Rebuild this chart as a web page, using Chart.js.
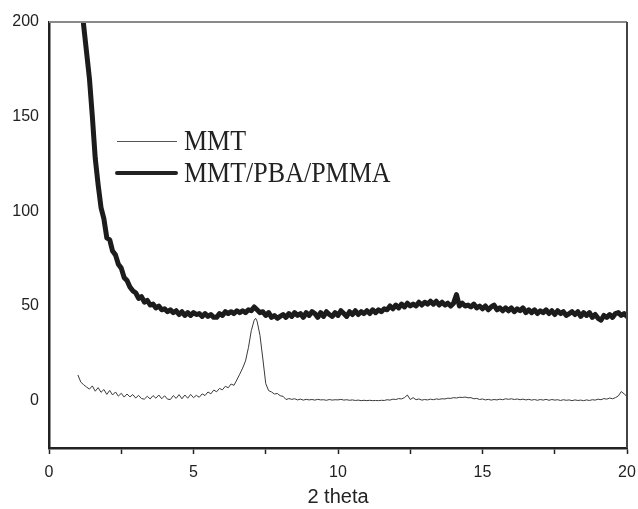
<!DOCTYPE html>
<html>
<head>
<meta charset="utf-8">
<script src="https://cdn.jsdelivr.net/npm/chart.js@4"></script>
<style>
  html, body { margin: 0; padding: 0; background: #fff; overflow: hidden; }
  #wrap { position: relative; width: 638px; height: 509px; }
  .key-line { position: absolute; background: #222; }
  .key-text {
    position: absolute;
    font-family: "Liberation Serif", "Times New Roman", serif;
    font-size: 26px;
    line-height: 26px;
    color: #222;
    white-space: nowrap;
    transform: scaleY(1.13);
    transform-origin: 0 22px;
  }
</style>
</head>
<body>
<div id="wrap">
  <canvas id="chart" width="638" height="509"></canvas>
  <div class="key-line" style="left:117px; top:141px; width:60px; height:1px; background:#555;"></div>
  <div class="key-text" style="left:184px; top:129px;">MMT</div>
  <div class="key-line" style="left:115px; top:171px; width:63px; height:4px; border-radius:2px;"></div>
  <div class="key-text" style="left:184px; top:161px;">MMT/PBA/PMMA</div>
</div>
<script>
const xTicks = [0, 2.5, 5, 7.5, 10, 12.5, 15, 17.5, 20];
const yTicks = [0, 50, 100, 150, 200];

const mmtAngle = [
  1.0, 1.1, 1.2, 1.3, 1.4, 1.5, 1.6, 1.7, 1.8, 1.9,
  2.0, 2.1, 2.2, 2.3, 2.4, 2.5, 2.6, 2.7, 2.8, 2.9,
  3.0, 3.1, 3.2, 3.3, 3.4, 3.5, 3.6, 3.7, 3.8, 3.9,
  4.0, 4.1, 4.2, 4.3, 4.4, 4.5, 4.6, 4.7, 4.8, 4.9,
  5.0, 5.1, 5.2, 5.3, 5.4, 5.5, 5.6, 5.7, 5.8, 5.9,
  6.0, 6.1, 6.2, 6.3, 6.4, 6.5, 6.6, 6.7, 6.8, 6.9,
  7.0, 7.1, 7.15, 7.2, 7.3, 7.4, 7.5, 7.6, 7.7, 7.8, 7.9,
  8.0, 8.1, 8.2, 8.3, 8.4, 8.5, 8.6, 8.7, 8.8, 8.9,
  9.0, 9.1, 9.2, 9.3, 9.4, 9.5, 9.6, 9.7, 9.8, 9.9,
  10.0, 10.1, 10.2, 10.3, 10.4, 10.5, 10.6, 10.7, 10.8, 10.9,
  11.0, 11.1, 11.2, 11.3, 11.4, 11.5, 11.6, 11.7, 11.8, 11.9,
  12.0, 12.1, 12.2, 12.3, 12.4, 12.5, 12.6, 12.7, 12.8, 12.9,
  13.0, 13.1, 13.2, 13.3, 13.4, 13.5, 13.6, 13.7, 13.8, 13.9,
  14.0, 14.1, 14.2, 14.3, 14.4, 14.5, 14.6, 14.7, 14.8, 14.9,
  15.0, 15.1, 15.2, 15.3, 15.4, 15.5, 15.6, 15.7, 15.8, 15.9,
  16.0, 16.1, 16.2, 16.3, 16.4, 16.5, 16.6, 16.7, 16.8, 16.9,
  17.0, 17.1, 17.2, 17.3, 17.4, 17.5, 17.6, 17.7, 17.8, 17.9,
  18.0, 18.1, 18.2, 18.3, 18.4, 18.5, 18.6, 18.7, 18.8, 18.9,
  19.0, 19.1, 19.2, 19.3, 19.4, 19.5, 19.6, 19.7, 19.8, 19.9, 20.0
];
const mmtCounts = [
  13.6, 9.8, 8.4, 7.2, 6.1, 7.8, 5.0, 6.9, 4.4, 5.9,
  3.3, 5.4, 3.0, 4.6, 2.4, 3.9, 1.9, 3.5, 2.0, 3.2,
  1.4, 2.8, 1.1, 0.8, 2.3, 0.9, 2.7, 1.3, 3.0, 1.0,
  2.6, 0.8, 0.6, 2.7, 1.2, 3.2, 1.0, 3.0, 1.3, 3.3,
  1.6, 2.8, 1.8, 3.6, 2.7, 4.6, 3.6, 5.6, 4.7, 6.5,
  5.7, 7.6, 6.8, 8.8, 8.1, 11.0, 14.0, 17.2, 21.0, 28.0,
  37.0, 42.5, 43.5, 42.0, 34.5, 22.0, 9.0, 5.3, 4.6, 3.5, 3.8,
  2.6, 2.3, 0.6, 1.1, 0.7, 1.0, 0.4, 0.8, 0.3, 0.7,
  0.4, 0.6, 0.3, 0.7, 0.4, 0.5, 0.2, 0.6, 0.3, 0.5,
  0.4, 0.7, 0.3, 0.5, 0.2, 0.4, 0.1, 0.3, 0.0, 0.2,
  0.0, 0.2, 0.0, 0.1, 0.0, 0.2, 0.1, 0.5, 0.3, 0.8,
  0.6, 1.1, 0.9, 1.6, 3.0, 0.6, 1.6, 0.5, 0.9, 0.3,
  0.6, 0.4, 0.8, 0.5, 0.9, 0.7, 1.0, 0.9, 1.3, 1.2,
  1.6, 1.4, 1.8, 1.7, 1.9, 1.5, 1.6, 1.0, 1.2, 0.6,
  0.9, 0.4, 0.7, 0.3, 0.6, 0.4, 0.8, 0.5, 1.0, 0.7,
  1.0, 0.6, 0.9, 0.5, 0.8, 0.4, 0.7, 0.3, 0.6, 0.2,
  0.6, 0.3, 0.7, 0.2, 0.6, 0.3, 0.5, 0.1, 0.5, 0.2,
  0.4, 0.0, 0.4, 0.1, 0.3, 0.0, 0.4, 0.1, 0.5, 0.3,
  0.8, 0.5, 1.1, 0.8, 1.4, 1.0, 1.6, 2.5, 4.8, 3.6, 2.2
];

const hybridAngle = [
  1.0, 1.1, 1.2, 1.3, 1.4, 1.5, 1.6, 1.7, 1.8, 1.9,
  2.0, 2.1, 2.2, 2.3, 2.4, 2.5, 2.6, 2.7, 2.8, 2.9,
  3.0, 3.1, 3.2, 3.3, 3.4, 3.5, 3.6, 3.7, 3.8, 3.9,
  4.0, 4.1, 4.2, 4.3, 4.4, 4.5, 4.6, 4.7, 4.8, 4.9,
  5.0, 5.1, 5.2, 5.3, 5.4, 5.5, 5.6, 5.7, 5.8, 5.9,
  6.0, 6.1, 6.2, 6.3, 6.4, 6.5, 6.6, 6.7, 6.8, 6.9,
  7.0, 7.1, 7.2, 7.3, 7.4, 7.5, 7.6, 7.7, 7.8, 7.9,
  8.0, 8.1, 8.2, 8.3, 8.4, 8.5, 8.6, 8.7, 8.8, 8.9,
  9.0, 9.1, 9.2, 9.3, 9.4, 9.5, 9.6, 9.7, 9.8, 9.9,
  10.0, 10.1, 10.2, 10.3, 10.4, 10.5, 10.6, 10.7, 10.8, 10.9,
  11.0, 11.1, 11.2, 11.3, 11.4, 11.5, 11.6, 11.7, 11.8, 11.9,
  12.0, 12.1, 12.2, 12.3, 12.4, 12.5, 12.6, 12.7, 12.8, 12.9,
  13.0, 13.1, 13.2, 13.3, 13.4, 13.5, 13.6, 13.7, 13.8, 13.9,
  14.0, 14.1, 14.2, 14.3, 14.4, 14.5, 14.6, 14.7, 14.8, 14.9,
  15.0, 15.1, 15.2, 15.3, 15.4, 15.5, 15.6, 15.7, 15.8, 15.9,
  16.0, 16.1, 16.2, 16.3, 16.4, 16.5, 16.6, 16.7, 16.8, 16.9,
  17.0, 17.1, 17.2, 17.3, 17.4, 17.5, 17.6, 17.7, 17.8, 17.9,
  18.0, 18.1, 18.2, 18.3, 18.4, 18.5, 18.6, 18.7, 18.8, 18.9,
  19.0, 19.1, 19.2, 19.3, 19.4, 19.5, 19.6, 19.7, 19.8, 19.9, 20.0
];
const hybridCounts = [
  250, 215, 198, 184, 170, 150, 128, 114, 102, 96,
  86, 85, 79, 77, 72, 70, 65, 63.5, 60, 58,
  57, 54, 55, 52, 53, 50.5, 51, 49, 50, 48,
  48.5, 47, 48, 46.5, 47.5, 45.5, 47, 45, 46.5, 45,
  46.5, 45.5, 46, 44.5, 46, 44.5, 45.5, 44, 44, 46,
  45, 47, 46, 47, 46, 47.5, 46.5, 47.5, 46.5, 48,
  47.5, 49.5, 48, 46.5, 47, 45, 46.5, 44, 45, 43.5,
  44.5, 45.5, 44, 46, 44.5, 46.5, 45, 46, 44, 46.5,
  45, 47, 46, 44, 46.5, 44.5, 47, 45.5, 44.5, 46.5,
  45, 47.5, 46, 44.5, 47, 45.5, 47.5, 45.5, 47, 46,
  47.5, 46, 48, 46.5, 48, 47, 48.5, 48, 50, 48.5,
  50.5, 49, 51, 49.5, 51.5, 50, 51, 50, 52, 50.5,
  52, 51, 52.5, 51, 52.5, 50.5, 52, 50.5, 51.5, 50,
  51.5, 56, 50, 51.5, 50, 50.5, 49.5, 51, 49, 50,
  48.5, 50, 48, 49.5, 50.5, 48, 49, 47.5, 49, 47.5,
  49, 47, 48.5, 47.5, 49, 46.5, 48, 46.5, 48, 46,
  47.5, 46.5, 48, 46, 47.5, 45.5, 47.5, 46, 47, 45,
  46, 47, 45.5, 47, 44.5, 46.5, 45, 46.5, 44, 45.5,
  43.5, 42.5, 45, 44, 45.5, 44, 46, 46.5, 45, 46, 44.5
];

const toPoints = (xs, ys) => xs.map((x, i) => ({ x, y: ys[i] }));

// plot frame: grey top edge, dark right edge
const framePlugin = {
  id: 'frame',
  afterDatasetsDraw(chart) {
    const { ctx, chartArea: a } = chart;
    ctx.save();
    ctx.lineWidth = 2;
    ctx.strokeStyle = '#8a8a8a';
    ctx.beginPath();
    ctx.moveTo(a.left, a.top);
    ctx.lineTo(a.right, a.top);
    ctx.stroke();
    ctx.strokeStyle = '#444';
    ctx.beginPath();
    ctx.moveTo(a.right, a.top);
    ctx.lineTo(a.right, a.bottom);
    ctx.stroke();
    ctx.restore();
  }
};

const ctx = document.getElementById('chart').getContext('2d');

new Chart(ctx, {
  type: 'scatter',
  data: {
    datasets: [
      {
        label: 'MMT',
        data: toPoints(mmtAngle, mmtCounts),
        showLine: true,
        borderColor: '#3a3a3a',
        borderWidth: 1,
        pointRadius: 0,
        tension: 0
      },
      {
        label: 'MMT/PBA/PMMA',
        data: toPoints(hybridAngle, hybridCounts),
        showLine: true,
        borderColor: '#1c1c1c',
        borderWidth: 5,
        borderJoinStyle: 'round',
        borderCapStyle: 'round',
        pointRadius: 0,
        tension: 0
      }
    ]
  },
  options: {
    responsive: false,
    animation: false,
    layout: { padding: { top: 22, right: 11, left: 0, bottom: 0 } },
    plugins: {
      legend: { display: false },
      tooltip: { enabled: false }
    },
    scales: {
      x: {
        type: 'linear',
        min: 0,
        max: 20,
        afterBuildTicks: s => { s.ticks = xTicks.map(v => ({ value: v })); },
        afterFit: s => { s.height = 61; s.paddingLeft = 0; s.paddingRight = 0; },
        grid: {
          drawOnChartArea: false,
          drawTicks: true,
          tickLength: 6,
          tickWidth: 1.5,
          tickColor: '#222'
        },
        border: { color: '#222', width: 2.5 },
        ticks: {
          padding: 9,
          maxRotation: 0,
          autoSkip: false,
          color: '#222',
          font: { family: 'Liberation Sans, Arial, sans-serif', size: 16 },
          callback: v => (v % 5 === 0 ? String(v) : '')
        },
        title: {
          display: true,
          text: '2 theta',
          color: '#222',
          font: { family: 'Liberation Sans, Arial, sans-serif', size: 20 },
          padding: { top: 0, bottom: 0 }
        }
      },
      y: {
        type: 'linear',
        min: -25,
        max: 200,
        afterBuildTicks: s => { s.ticks = yTicks.map(v => ({ value: v })); },
        afterFit: s => { s.width = 49; s.paddingTop = 0; s.paddingBottom = 0; },
        grid: {
          drawOnChartArea: false,
          drawTicks: false
        },
        border: { color: '#222', width: 2.5 },
        ticks: {
          padding: 10,
          color: '#222',
          font: { family: 'Liberation Sans, Arial, sans-serif', size: 16 }
        }
      }
    }
  },
  plugins: [framePlugin]
});
</script>
</body>
</html>
